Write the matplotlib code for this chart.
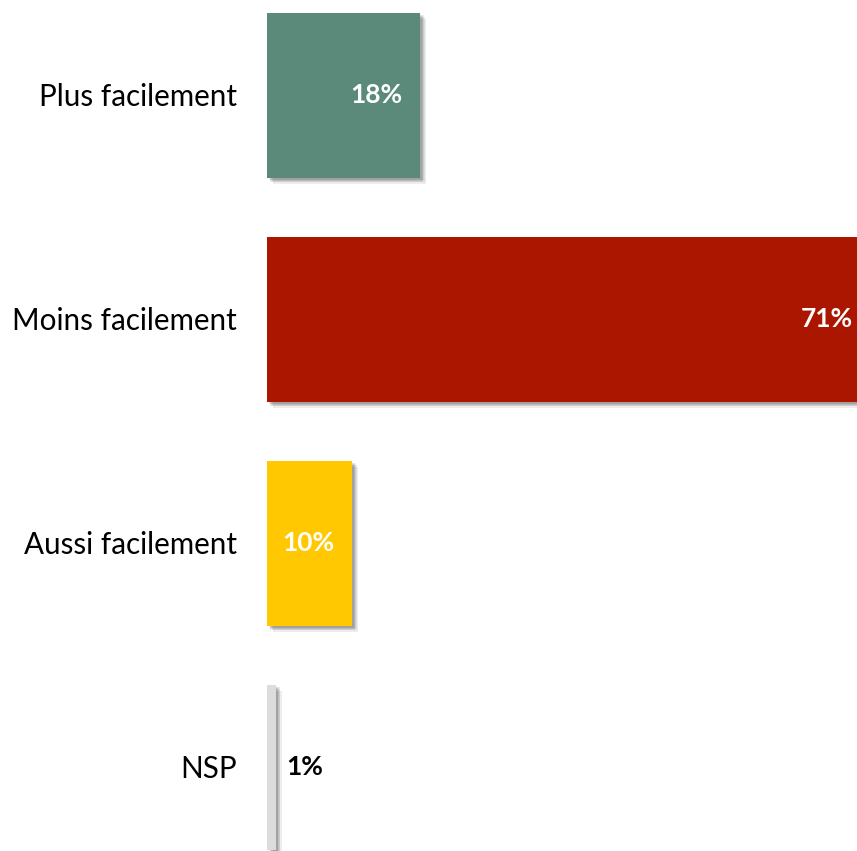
import matplotlib.pyplot as plt
import matplotlib.patheffects as pe

# data (top to bottom)
categories = ['Plus facilement', 'Moins facilement', 'Aussi facilement', 'NSP']
values = [18, 71, 10, 1]
colors = ['#5B8A7A', '#AA1600', '#FFC800', '#DCDCDC']
label_colors = ['white', 'white', 'white', 'black']

plt.rcParams['font.family'] = ['Lato', 'DejaVu Sans']

W, H = 857, 851
fig = plt.figure(figsize=(W / 100, H / 100), dpi=100)

# 8.5 px per percent, bars start at x=267 px; rows spaced 224 px
px_per_pct = 8.5
x_max = 80
ax_left = 267
ax_w = x_max * px_per_pct
row = 224
top_center = 95
ax_top = top_center - row / 2
ax_h = row * len(categories)
ax = fig.add_axes([ax_left / W, 1 - (ax_top + ax_h) / H, ax_w / W, ax_h / H])

# soft drop shadow made of stacked offset copies
shadow = []
for dx, dy in [(1.5, -1.5), (2.5, -2.5), (3.5, -3.5), (2.0, -3.0), (3.0, -2.0), (4.5, -4.5)]:
    shadow.append(pe.SimplePatchShadow(offset=(dx, dy), shadow_rgbFace='black', alpha=0.07))
shadow.append(pe.Normal())

y = list(range(len(categories)))
bars = ax.barh(y, values, height=165 / row, color=colors, zorder=2)
for b in bars:
    b.set_path_effects(shadow)

for yi, v, lc in zip(y, values, label_colors):
    if v >= 5:
        ax.text(v - 18 / px_per_pct, yi, f'{v}%', ha='right', va='center',
                color=lc, fontsize=19, fontweight='bold', zorder=3)
    else:
        ax.text(v + 11 / px_per_pct, yi, f'{v}%', ha='left', va='center',
                color=lc, fontsize=19, fontweight='bold', zorder=3)

ax.set_xlim(0, x_max)
ax.set_ylim(len(categories) - 0.5, -0.5)
ax.set_yticks(y)
ax.set_yticklabels(categories, fontsize=21.3)
ax.tick_params(axis='y', length=0, pad=21.5)
ax.set_xticks([])
for s in ax.spines.values():
    s.set_visible(False)
ax.patch.set_visible(False)

fig.savefig('out.png', dpi=100)
